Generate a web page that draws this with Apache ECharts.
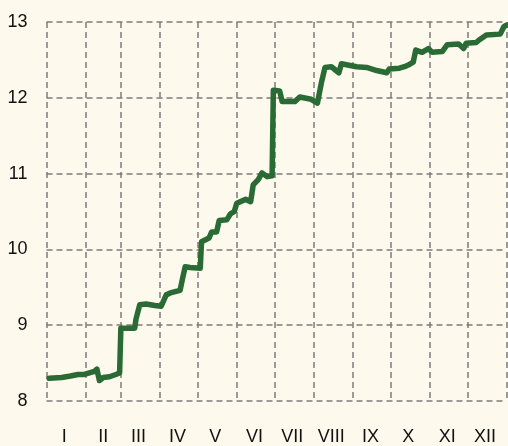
<!DOCTYPE html>
<html>
<head>
<meta charset="utf-8">
<script src="https://cdn.jsdelivr.net/npm/echarts@6/dist/echarts.min.js"></script>
<style>
  html, body { margin: 0; padding: 0; background: #fdf9ec; }
  #main { width: 508px; height: 446px; }
</style>
</head>
<body>
<div id="main"></div>
<script>
// day of year (0 = 1 Jan) and value
var days = [2, 12, 19, 25, 30, 34, 38, 40, 42, 45, 50, 55, 58, 59, 70, 71, 74, 79, 86, 91,
    95, 99, 106, 108, 110, 114, 122, 123, 129, 131, 135, 137, 143, 146, 149, 151, 158, 162, 164, 168,
    171, 175, 179, 180, 185, 187, 197, 201, 210, 215, 218, 221, 226, 229, 232, 234, 240, 246, 254, 262,
    270, 272, 280, 284, 288, 291, 293, 298, 303, 306, 314, 318, 327, 331, 333, 341, 343, 349, 360, 363, 365];
var values = [8.30, 8.31, 8.33, 8.35, 8.35, 8.37, 8.39, 8.42, 8.27, 8.31, 8.32, 8.35, 8.37, 8.96, 8.96, 9.08, 9.27, 9.28, 9.26, 9.25,
    9.40, 9.43, 9.46, 9.62, 9.77, 9.76, 9.75, 10.10, 10.15, 10.23, 10.23, 10.38, 10.39, 10.47, 10.50, 10.61, 10.66, 10.63, 10.85, 10.92,
    11.01, 10.96, 10.97, 12.10, 12.09, 11.95, 11.95, 12.01, 11.98, 11.93, 12.19, 12.40, 12.41, 12.37, 12.33, 12.45, 12.43, 12.41, 12.40, 12.36,
    12.33, 12.38, 12.39, 12.41, 12.44, 12.47, 12.63, 12.60, 12.65, 12.60, 12.61, 12.70, 12.71, 12.65, 12.72, 12.73, 12.76, 12.83, 12.84, 12.94, 12.96];

var monthStarts = [0, 31, 59, 90, 120, 151, 181, 212, 243, 273, 304, 334, 365];
var monthMids = [14, 45, 73, 104, 134, 165, 195, 226, 257, 287, 318, 348];
var monthNames = ['I', 'II', 'III', 'IV', 'V', 'VI', 'VII', 'VIII', 'IX', 'X', 'XI', 'XII'];

var seriesData = [];
for (var i = 0; i < days.length; i++) {
    seriesData.push([days[i], values[i]]);
}

var myChart = echarts.init(document.getElementById('main'));

var labelFont = "'Liberation Sans', Arial, sans-serif";

var gridLine = {
    show: true,
    lineStyle: { color: '#7c7c7c', width: 1.5, type: [6, 4] }
};

var option = {
    backgroundColor: '#fdf9ec',
    animation: false,
    grid: { left: 46.5, right: 1.5, top: 22, bottom: 45 },
    xAxis: {
        type: 'value',
        min: 0,
        max: 365,
        axisLine: { show: false },
        axisTick: { show: false, customValues: monthStarts },
        splitLine: gridLine,
        axisLabel: {
            customValues: monthMids,
            margin: 27,
            fontFamily: labelFont,
            fontSize: 18,
            color: '#111',
            formatter: function (v) {
                var k = monthMids.indexOf(v);
                return k >= 0 ? monthNames[k] : '';
            }
        }
    },
    yAxis: {
        type: 'value',
        min: 8,
        max: 13,
        interval: 1,
        axisLine: { show: false },
        axisTick: { show: false },
        splitLine: gridLine,
        axisLabel: {
            margin: 19,
            fontFamily: labelFont,
            fontSize: 18,
            color: '#111'
        }
    },
    series: [{
        type: 'line',
        data: seriesData,
        symbol: 'none',
        clip: false,
        lineStyle: { color: '#2a6b35', width: 5.5, cap: 'round', join: 'round' }
    }]
};

myChart.setOption(option);
</script>
</body>
</html>
